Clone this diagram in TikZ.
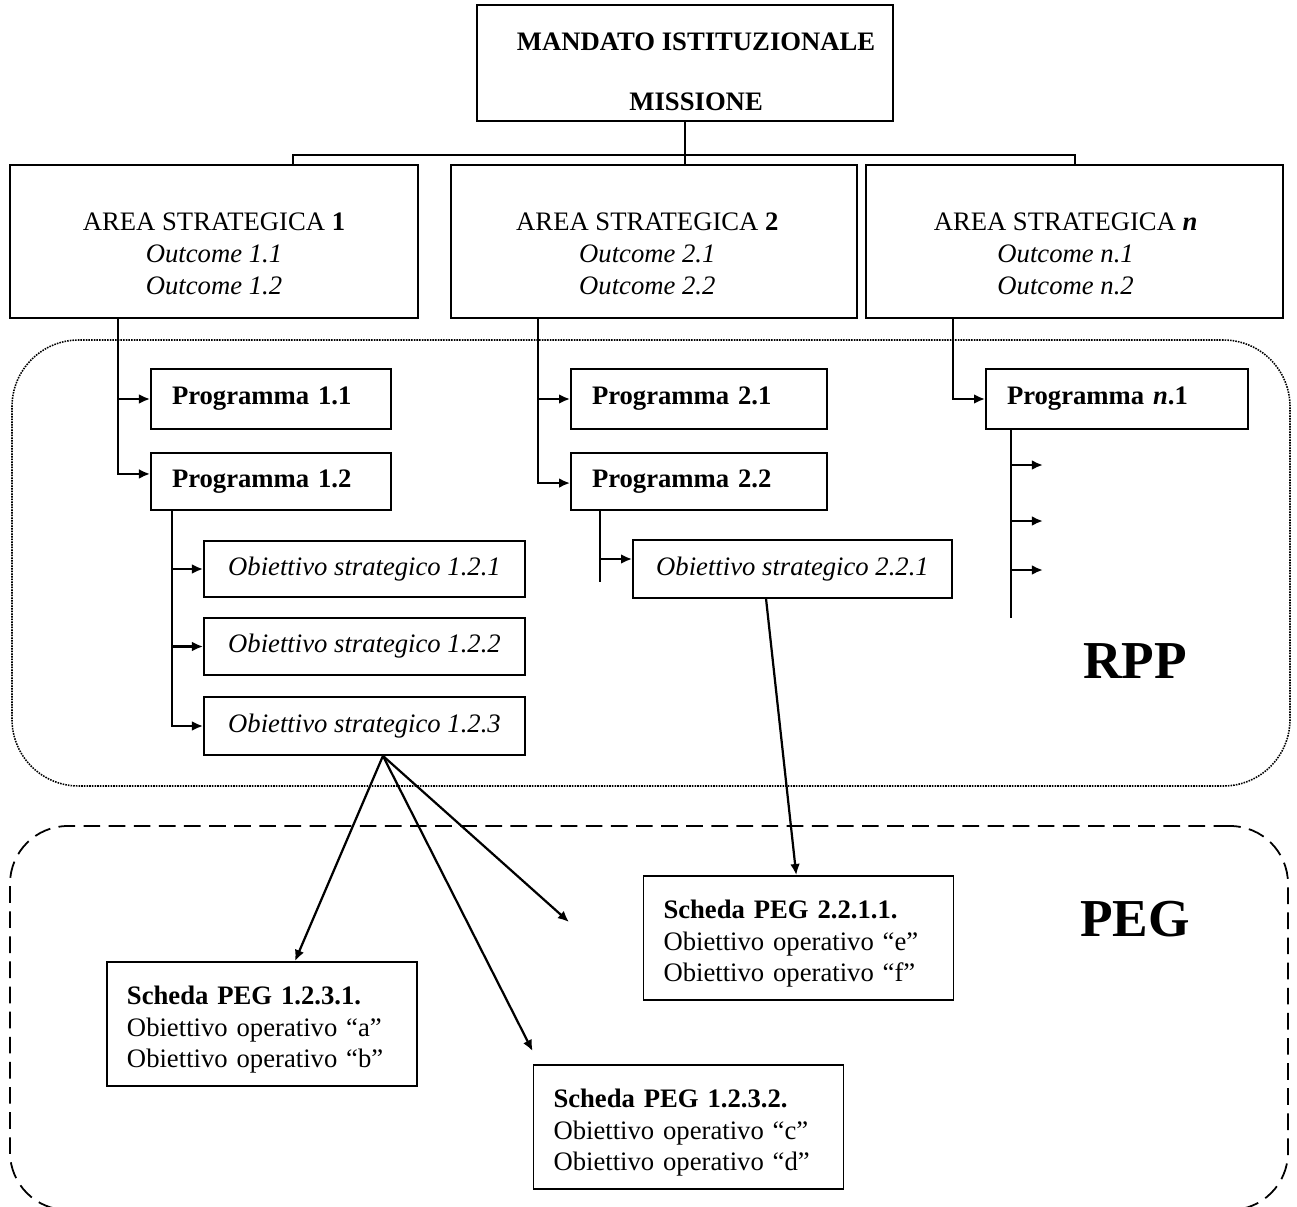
\documentclass[tikz,border=0pt]{standalone}
\usepackage{fontspec}
\setmainfont{Liberation Serif}
\usetikzlibrary{arrows.meta}
\newcommand{\topstrut}[1]{\rule{0pt}{#1}}
\tikzset{
  boxline/.style={draw, line width=0.8pt, inner sep=0pt},
  mandatobox/.style={
    boxline,
    font=\fontsize{12}{13.8}\selectfont\bfseries,
    align=center,
    minimum width=187.2pt,
    minimum height=52.2pt
  },
  areabox/.style={
    boxline,
    font=\fontsize{12}{14.4}\selectfont,
    align=center,
    minimum height=68.85pt
  },
  progbox/.style={
    boxline,
    font=\fontsize{12}{13.8}\selectfont\bfseries,
    align=left,
    inner xsep=9.45pt
  },
  objbox/.style={
    boxline,
    font=\fontsize{12}{13.8}\selectfont\itshape,
    align=center,
    minimum width=144.45pt
  },
  schedabox/.style={
    boxline,
    font=\fontsize{12}{14.2}\selectfont,
    align=left,
    inner xsep=9pt,
    text width=121.5pt,
    minimum height=55.8pt
  },
  rppframe/.style={draw, dash pattern=on 0.7pt off 0.5pt, line width=0.7pt, rounded corners=30pt,
    minimum width=575.1pt, minimum height=200.7pt},
  pegframe/.style={draw, dash pattern=on 7.5pt off 3.8pt, line width=0.8pt, rounded corners=26pt,
    minimum width=575.1pt, minimum height=172.8pt},
  bigtag/.style={font=\fontsize{24}{28}\selectfont\bfseries, inner sep=0pt},
  linkarrow/.style={-{Latex[length=5pt,width=4.4pt]}, line width=1pt},
  busline/.style={line width=0.6pt},
  spine/.style={line width=1pt}
}

\begin{document}
\begin{tikzpicture}[x=0.45pt, y=-0.45pt, font=\fontsize{12}{13.8}\selectfont]
  \useasboundingbox (0,0) rectangle (1297,1207);
  \clip (0,0) rectangle (1297,1207);

  % the two documents
  \node[rppframe] (rpp) at (651,563) {};
  \node[pegframe] (peg) at (649,1018) {};
  \node[bigtag] (rpptag) at (1135,661.5) {RPP};
  \node[bigtag] (pegtag) at (1135,919.5) {PEG};

  % mandate and strategic areas
  \node[mandatobox] (mandato) at (685,63)
    {\topstrut{16.2pt}\hspace*{10pt}MANDATO ISTITUZIONALE\\[13.2pt]\hspace*{10pt}MISSIONE};
  \node[areabox, minimum width=183.6pt] (area1) at (214,241.5)
    {\topstrut{19.5pt}AREA STRATEGICA \textbf{1}\\\textit{Outcome 1.1}\\\textit{Outcome 1.2}};
  \node[areabox, minimum width=182.7pt] (area2) at (654,241.5)
    {\topstrut{19.5pt}\hspace*{-6pt}AREA STRATEGICA \textbf{2}\\\hspace*{-6pt}\textit{Outcome 2.1}\\\hspace*{-6pt}\textit{Outcome 2.2}};
  \node[areabox, minimum width=187.65pt] (arean) at (1074.5,241.5)
    {\topstrut{19.5pt}\hspace*{-8pt}AREA STRATEGICA \textbf{\textit{n}}\\\hspace*{-8pt}\textit{Outcome n.1}\\\hspace*{-8pt}\textit{Outcome n.2}};

  \coordinate (busL) at (293,155);
  \coordinate (busR) at (1075,155);
  \draw[busline] (mandato.south) -- (mandato.south |- area2.north);
  \draw[busline] (busL |- area1.north) -- (busL) -- (busR) -- (busR |- arean.north);

  % programmes
  \node[progbox, text width=89.1pt, minimum height=27pt] (prog11) at (271,399) {Programma 1.1};
  \node[progbox, text width=89.1pt, minimum height=25.65pt] (prog12) at (271,481.5) {Programma 1.2};
  \node[progbox, text width=96.3pt, minimum height=27pt] (prog21) at (699,399) {Programma 2.1};
  \node[progbox, text width=96.3pt, minimum height=25.65pt] (prog22) at (699,481.5) {Programma 2.2};
  \node[progbox, text width=99pt, minimum height=27pt] (progn1) at (1117,399) {Programma \textit{n}.1};

  \coordinate (sp1) at (118,318);
  \coordinate (sp2) at (538,318);
  \coordinate (spn) at (953,318);
  \draw[linkarrow] (sp1) |- (prog11.west);
  \draw[linkarrow] (sp1) |- ([yshift=3.4pt]prog12.west);
  \draw[linkarrow] (sp2) |- (prog21.west);
  \draw[linkarrow] (sp2) |- ([yshift=-0.7pt]prog22.west);
  \draw[linkarrow] (spn) |- (progn1.west);

  % strategic objectives
  \node[objbox, minimum height=25.2pt] (obj121) at (364.5,569) {Obiettivo strategico 1.2.1};
  \node[objbox, minimum height=25.65pt] (obj122) at (364.5,646.5) {Obiettivo strategico 1.2.2};
  \node[objbox, minimum height=26.1pt] (obj123) at (364.5,726) {Obiettivo strategico 1.2.3};
  \node[objbox, minimum width=143.55pt, minimum height=26.1pt] (obj221) at (792.5,569) {Obiettivo strategico 2.2.1};

  \coordinate (sp12) at (172,510);
  \draw[linkarrow] (sp12) |- (obj121.west);
  \draw[linkarrow] (sp12) |- (obj122.west);
  \draw[linkarrow] (sp12) |- (obj123.west);

  \coordinate (sp22) at (600,510);
  \coordinate (sp22end) at (600,582);
  \draw[spine] (sp22) -- (sp22end);
  \draw[linkarrow] (sp22) |- ([yshift=4.5pt]obj221.west);

  \coordinate (spn1) at (1011,429);
  \coordinate (spn1end) at (1011,618);
  \draw[spine] (spn1) -- (spn1end);
  \foreach \y [count=\i] in {465,521,570} {
    \coordinate (stub\i) at (1043,\y);
    \draw[linkarrow] (spn1 |- stub\i) -- (stub\i);
  }

  % PEG sheets
  \node[schedabox] (peg1231) at (262,1024)
    {\topstrut{13.6pt}\textbf{Scheda PEG 1.2.3.1.}\\Obiettivo operativo “a”\\Obiettivo operativo “b”};
  \node[schedabox] (peg1232) at (688.5,1127)
    {\topstrut{13.6pt}\textbf{Scheda PEG 1.2.3.2.}\\Obiettivo operativo “c”\\Obiettivo operativo “d”};
  \node[schedabox] (peg2211) at (798.5,938)
    {\topstrut{13.6pt}\textbf{Scheda PEG 2.2.1.1.}\\Obiettivo operativo “e”\\Obiettivo operativo “f”};

  \coordinate (loose) at (569,922);
  \draw[linkarrow] ([xshift=8.3pt]obj123.south) -- ([xshift=14.85pt]peg1231.north);
  \draw[linkarrow] ([xshift=8.3pt]obj123.south) -- ([yshift=5.85pt]peg1232.north west);
  \draw[linkarrow] ([xshift=8.3pt]obj123.south) -- (loose);
  \draw[linkarrow] ([xshift=-11.9pt]obj221.south) -- ([xshift=-1pt]peg2211.north);
\end{tikzpicture}
\end{document}
